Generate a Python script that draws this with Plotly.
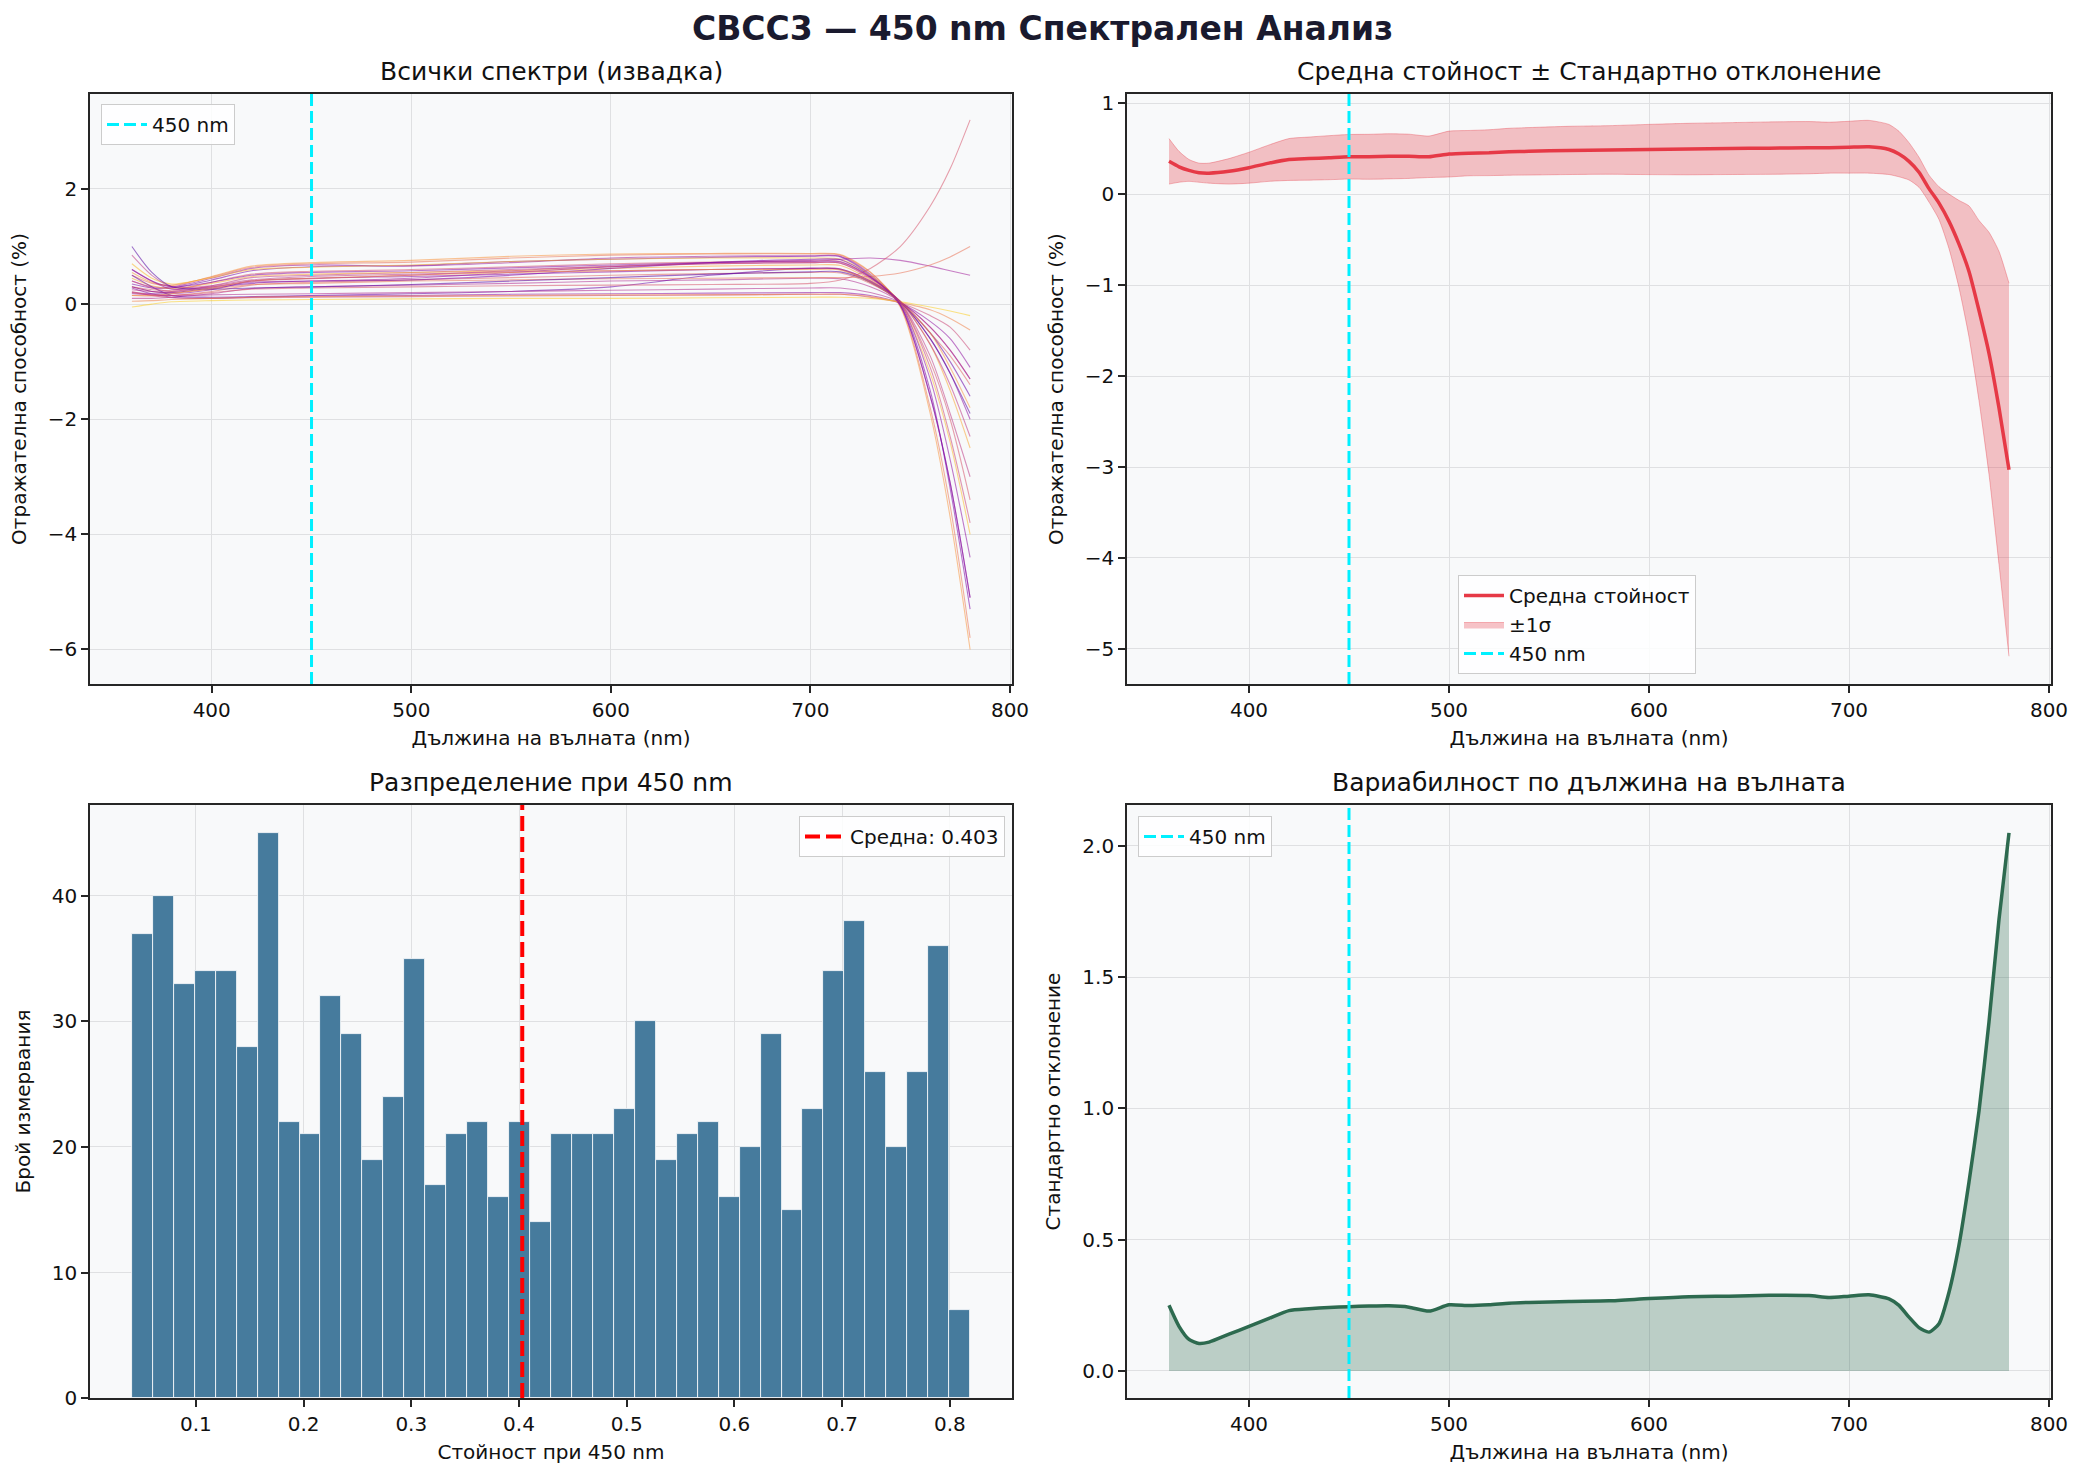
import plotly.graph_objects as go
from plotly.colors import sample_colorscale

# ---------------- data ----------------
WL = [360, 365, 370, 375, 380, 390, 400, 410, 420, 430, 440, 450, 460, 470, 480, 490,
      500, 510, 520, 530, 540, 560, 580, 600, 620, 640, 660, 680, 690, 700, 710, 720,
      725, 730, 735, 740, 745, 750, 755, 760, 765, 770, 775, 780]
MEAN = [0.36, 0.30, 0.26, 0.235, 0.23, 0.25, 0.29, 0.34, 0.38, 0.39, 0.40, 0.41, 0.41, 0.415, 0.415, 0.41,
        0.44, 0.45, 0.455, 0.465, 0.47, 0.48, 0.485, 0.49, 0.495, 0.50, 0.505, 0.51, 0.51, 0.515, 0.52, 0.49,
        0.44, 0.36, 0.24, 0.06, -0.10, -0.30, -0.55, -0.85, -1.28, -1.75, -2.35, -3.03]
STD = [0.25, 0.17, 0.12, 0.105, 0.11, 0.14, 0.17, 0.20, 0.23, 0.237, 0.242, 0.245, 0.247, 0.248, 0.243, 0.228,
       0.252, 0.249, 0.252, 0.258, 0.261, 0.265, 0.267, 0.276, 0.283, 0.285, 0.288, 0.287, 0.28, 0.285, 0.29, 0.275,
       0.25, 0.205, 0.165, 0.148, 0.18, 0.30, 0.48, 0.72, 0.99, 1.33, 1.72, 2.05]

WL_S = [360, 370, 380, 400, 420, 450, 500, 550, 600, 650, 700, 715, 730, 745, 760, 770, 780]
SPECTRA = [
    [0.55, 0.38, 0.32, 0.48, 0.66, 0.72, 0.76, 0.83, 0.87, 0.88, 0.88, 0.86, 0.56, -0.05, -1.9, -3.7, -6.0],
    [0.50, 0.36, 0.33, 0.47, 0.64, 0.70, 0.73, 0.80, 0.85, 0.87, 0.87, 0.85, 0.55, -0.03, -1.8, -3.5, -5.8],
    [0.40, 0.30, 0.30, 0.45, 0.62, 0.68, 0.66, 0.72, 0.80, 0.83, 0.84, 0.83, 0.52, -0.02, -1.6, -3.1, -5.1],
    [0.35, 0.28, 0.28, 0.42, 0.58, 0.65, 0.67, 0.74, 0.78, 0.81, 0.83, 0.82, 0.50, 0.00, -1.5, -3.2, -5.3],
    [0.70, 0.45, 0.35, 0.46, 0.60, 0.64, 0.68, 0.74, 0.78, 0.80, 0.80, 0.78, 0.50, 0.02, -1.2, -2.4, -4.0],
    [0.30, 0.25, 0.24, 0.38, 0.52, 0.57, 0.60, 0.65, 0.70, 0.73, 0.75, 0.74, 0.46, 0.03, -1.0, -2.0, -3.4],
    [0.25, 0.22, 0.22, 0.32, 0.46, 0.50, 0.55, 0.60, 0.65, 0.70, 0.72, 0.71, 0.44, 0.04, -0.9, -1.9, -3.0],
    [0.45, 0.32, 0.27, 0.36, 0.48, 0.52, 0.55, 0.58, 0.62, 0.66, 0.68, 0.67, 0.42, 0.05, -0.7, -1.5, -2.5],
    [0.20, 0.18, 0.18, 0.25, 0.40, 0.45, 0.48, 0.52, 0.56, 0.60, 0.62, 0.61, 0.40, 0.05, -0.6, -1.2, -2.0],
    [0.15, 0.14, 0.15, 0.22, 0.33, 0.38, 0.42, 0.46, 0.50, 0.53, 0.55, 0.54, 0.36, 0.05, -0.5, -0.9, -1.4],
    [0.10, 0.10, 0.12, 0.18, 0.27, 0.30, 0.33, 0.36, 0.40, 0.42, 0.45, 0.44, 0.30, 0.04, -0.4, -0.8, -1.3],
    [0.50, 0.30, 0.15, 0.12, 0.13, 0.15, 0.18, 0.22, 0.30, 0.50, 0.62, 0.60, 0.38, 0.04, -0.5, -1.0, -1.6],
    [0.28, 0.18, 0.12, 0.10, 0.12, 0.14, 0.15, 0.17, 0.18, 0.19, 0.20, 0.20, 0.15, 0.02, -0.3, -0.6, -1.1],
    [0.22, 0.15, 0.11, 0.10, 0.11, 0.12, 0.13, 0.14, 0.15, 0.16, 0.17, 0.17, 0.12, 0.02, -0.2, -0.4, -0.8],
    [0.05, 0.06, 0.08, 0.10, 0.12, 0.13, 0.14, 0.15, 0.16, 0.16, 0.17, 0.17, 0.13, 0.03, -0.1, -0.25, -0.45],
    [-0.05, 0.00, 0.04, 0.06, 0.07, 0.08, 0.09, 0.10, 0.10, 0.11, 0.12, 0.12, 0.10, 0.04, -0.05, -0.12, -0.2],
    [0.60, 0.40, 0.26, 0.30, 0.38, 0.40, 0.45, 0.55, 0.65, 0.72, 0.76, 0.78, 0.80, 0.76, 0.66, 0.58, 0.50],
    [0.30, 0.22, 0.20, 0.26, 0.34, 0.36, 0.40, 0.42, 0.44, 0.45, 0.46, 0.46, 0.48, 0.54, 0.68, 0.82, 1.00],
    [0.20, 0.16, 0.15, 0.20, 0.26, 0.28, 0.30, 0.32, 0.33, 0.34, 0.36, 0.42, 0.62, 1.00, 1.70, 2.35, 3.20],
    [0.30, 0.22, 0.20, 0.28, 0.36, 0.40, 0.42, 0.50, 0.62, 0.72, 0.78, 0.77, 0.48, -0.02, -1.6, -3.1, -5.1],
    [0.85, 0.50, 0.30, 0.32, 0.42, 0.48, 0.52, 0.56, 0.58, 0.60, 0.62, 0.61, 0.40, 0.04, -0.7, -1.4, -2.3],
    [1.00, 0.55, 0.30, 0.26, 0.28, 0.30, 0.34, 0.40, 0.46, 0.52, 0.56, 0.56, 0.38, 0.04, -0.6, -1.2, -1.9],
    [0.15, 0.15, 0.18, 0.28, 0.40, 0.45, 0.50, 0.55, 0.58, 0.60, 0.60, 0.59, 0.38, 0.04, -0.5, -1.1, -1.8],
    [0.18, 0.16, 0.15, 0.16, 0.17, 0.18, 0.20, 0.22, 0.24, 0.26, 0.28, 0.28, 0.20, 0.03, -0.4, -0.8, -1.3],
    [0.40, 0.28, 0.22, 0.30, 0.40, 0.44, 0.50, 0.58, 0.66, 0.70, 0.72, 0.71, 0.46, 0.03, -1.1, -2.3, -3.8],
    [0.60, 0.40, 0.30, 0.38, 0.50, 0.55, 0.58, 0.63, 0.68, 0.72, 0.74, 0.73, 0.47, 0.01, -1.3, -2.7, -4.4],
]
SPEC_COLOR_POS = [0.75, 0.65, 0.35, 0.25, 0.85, 0.55, 0.45, 0.80, 0.30, 0.60, 0.40, 0.20, 0.30,
                  0.50, 0.70, 0.90, 0.35, 0.65, 0.55, 0.25, 0.45, 0.15, 0.75, 0.40, 0.50, 0.30]

HIST_COUNTS = [37, 40, 33, 34, 34, 28, 45, 22, 21, 32, 29, 19, 24, 35, 17, 21, 22, 16, 22, 14,
               21, 21, 21, 23, 30, 19, 21, 22, 16, 20, 29, 15, 23, 34, 38, 26, 20, 26, 36, 7]
HIST_MIN = 0.0406
HIST_MAX = 0.8188
HIST_MEAN = 0.403
MARK_WL = 450

# ---------------- style ----------------
FONT = "DejaVu Sans"
BG = "#f8f9fa"
GRID = "#dfe0e2"
AX = "#262626"
CYAN = "#00f0ff"
W, H = 2084, 1476

XL = [90 / W, 1012 / W]
XR = [1127 / W, 2051 / W]
YT = [1 - 684 / H, 1 - 94 / H]
YB = [1 - 1398 / H, 1 - 805 / H]

CYAN_LINE = dict(color=CYAN, width=3, dash="12px,5px")
RED_LINE = dict(color="#ff0000", width=4, dash="15px,6px")

fig = go.Figure()

# ---- panel 1: all spectra ----
for vals, cpos in zip(SPECTRA, SPEC_COLOR_POS):
    col = sample_colorscale("Plasma", [cpos])[0]
    fig.add_trace(go.Scatter(x=WL_S, y=vals, mode="lines", xaxis="x", yaxis="y",
                             line=dict(color=col, width=1.1, shape="spline", smoothing=0.8),
                             opacity=0.55, showlegend=False, hoverinfo="skip"))
fig.add_trace(go.Scatter(x=[None], y=[None], mode="lines", xaxis="x", yaxis="y", line=CYAN_LINE,
                         name=f"{MARK_WL} nm", legend="legend"))

# ---- panel 2: mean +- std ----
lower = [m - s for m, s in zip(MEAN, STD)]
upper = [m + s for m, s in zip(MEAN, STD)]
fig.add_trace(go.Scatter(x=WL, y=lower, mode="lines", xaxis="x2", yaxis="y2",
                         line=dict(color="rgba(230,57,70,0.35)", width=1, shape="spline", smoothing=0.6),
                         showlegend=False, hoverinfo="skip"))
fig.add_trace(go.Scatter(x=WL, y=upper, mode="lines", xaxis="x2", yaxis="y2", fill="tonexty",
                         fillcolor="rgba(230,57,70,0.3)",
                         line=dict(color="rgba(230,57,70,0.35)", width=1, shape="spline", smoothing=0.6),
                         name="±1σ", legend="legend2", legendrank=2))
fig.add_trace(go.Scatter(x=WL, y=MEAN, mode="lines", xaxis="x2", yaxis="y2",
                         line=dict(color="#e63946", width=3.5, shape="spline", smoothing=0.6),
                         name="Средна стойност", legend="legend2", legendrank=1))
fig.add_trace(go.Scatter(x=[None], y=[None], mode="lines", xaxis="x2", yaxis="y2", line=CYAN_LINE,
                         name=f"{MARK_WL} nm", legend="legend2", legendrank=3))

# ---- panel 3: histogram ----
nb = len(HIST_COUNTS)
bw = (HIST_MAX - HIST_MIN) / nb
centers = [HIST_MIN + bw * (i + 0.5) for i in range(nb)]
fig.add_trace(go.Bar(x=centers, y=HIST_COUNTS, width=bw, xaxis="x3", yaxis="y3",
                     marker=dict(color="rgb(70,123,157)", line=dict(color="white", width=0.8)),
                     showlegend=False, hoverinfo="skip"))
fig.add_trace(go.Scatter(x=[None], y=[None], mode="lines", xaxis="x3", yaxis="y3", line=RED_LINE,
                         name=f"Средна: {HIST_MEAN:.3f}", legend="legend3"))

# ---- panel 4: std ----
fig.add_trace(go.Scatter(x=WL, y=STD, mode="lines", xaxis="x4", yaxis="y4", fill="tozeroy",
                         fillcolor="rgba(45,106,79,0.3)",
                         line=dict(color="#2d6a4f", width=3.5, shape="spline", smoothing=0.6),
                         showlegend=False, hoverinfo="skip"))
fig.add_trace(go.Scatter(x=[None], y=[None], mode="lines", xaxis="x4", yaxis="y4", line=CYAN_LINE,
                         name=f"{MARK_WL} nm", legend="legend4"))

# ---- vertical reference lines ----
shapes = []
for xa, ya in [("x", "y"), ("x2", "y2"), ("x4", "y4")]:
    shapes.append(dict(type="line", xref=xa, yref=ya + " domain", x0=MARK_WL, x1=MARK_WL, y0=0, y1=1,
                       line=CYAN_LINE, layer="above"))
shapes.append(dict(type="line", xref="x3", yref="y3 domain", x0=HIST_MEAN, x1=HIST_MEAN, y0=0, y1=1,
                   line=RED_LINE, layer="above"))


def axis(domain, rng, anchor, title, dtick=None, tickformat=None, standoff=10):
    d = dict(domain=domain, range=rng, anchor=anchor, autorange=False,
             showline=True, mirror=True, linecolor=AX, linewidth=1.7,
             ticks="outside", ticklen=7, tickwidth=1.5, tickcolor=AX,
             showgrid=True, gridcolor=GRID, gridwidth=1, zeroline=False,
             tickfont=dict(family=FONT, size=20, color="#111"),
             title=dict(text=title, font=dict(family=FONT, size=20, color="#111"), standoff=standoff),
             automargin=False)
    if dtick is not None:
        d["dtick"] = dtick
        d["tick0"] = 0
    if tickformat:
        d["tickformat"] = tickformat
    return d


XLAB = "Дължина на вълната (nm)"
YLAB = "Отражателна способност (%)"

legend_style = dict(bgcolor="rgba(255,255,255,0.85)", bordercolor="#cccccc", borderwidth=1,
                    font=dict(family=FONT, size=20, color="#111"), itemwidth=40, traceorder="normal")

fig.update_layout(
    width=W, height=H, margin=dict(l=0, r=0, t=0, b=0),
    paper_bgcolor="white", plot_bgcolor=BG,
    font=dict(family=FONT, size=20, color="#111"),
    bargap=0,
    xaxis=axis(XL, [339, 801], "y", XLAB, dtick=100),
    yaxis=axis(YT, [-6.60, 3.65], "x", YLAB, dtick=2, standoff=16),
    xaxis2=axis(XR, [339, 801], "y2", XLAB, dtick=100),
    yaxis2=axis(YT, [-5.385, 1.10], "x2", YLAB, dtick=1, standoff=16),
    xaxis3=axis(XL, [0.0017, 0.8577], "y3", "Стойност при 450 nm", dtick=0.1, tickformat=".1f"),
    yaxis3=axis(YB, [0, 47.25], "x3", "Брой измервания", dtick=10, standoff=16),
    xaxis4=axis(XR, [339, 801], "y4", XLAB, dtick=100),
    yaxis4=axis(YB, [-0.103, 2.156], "x4", "Стандартно отклонение", dtick=0.5, tickformat=".1f", standoff=16),
    shapes=shapes,
    legend=dict(x=101 / W, y=1 - 104 / H, xanchor="left", yanchor="top", **legend_style),
    legend2=dict(x=1458 / W, y=1 - 575 / H, xanchor="left", yanchor="top", **legend_style),
    legend3=dict(x=1005 / W, y=1 - 816 / H, xanchor="right", yanchor="top", **legend_style),
    legend4=dict(x=1138 / W, y=1 - 816 / H, xanchor="left", yanchor="top", **legend_style),
)

titles = [
    ("Всички спектри (извадка)", XL, YT),
    ("Средна стойност ± Стандартно отклонение", XR, YT),
    ("Разпределение при 450 nm", XL, YB),
    ("Вариабилност по дължина на вълната", XR, YB),
]
ann = []
for txt, xd, yd in titles:
    ann.append(dict(text=txt, x=(xd[0] + xd[1]) / 2, y=yd[1], xref="paper", yref="paper",
                    xanchor="center", yanchor="bottom", yshift=6, showarrow=False,
                    font=dict(family=FONT, size=25, color="#111")))
ann.append(dict(text="<b>CBCC3 — 450 nm Спектрален Анализ</b>", x=0.5, y=1 - 29 / H, xref="paper", yref="paper",
                xanchor="center", yanchor="middle", showarrow=False,
                font=dict(family=FONT, size=33, color="#1a1a2e")))
fig.update_layout(annotations=ann)

fig.write_html("out.html")
